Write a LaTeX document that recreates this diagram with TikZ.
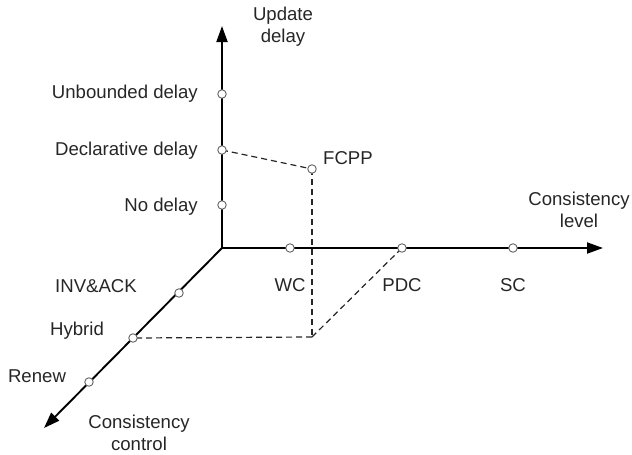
\documentclass[tikz,border=0pt]{standalone}
\usepackage{fontspec}
\setmainfont{Liberation Sans}
\usetikzlibrary{arrows.meta}
\tikzset{
  axis/.style={line width=1.9pt, -{Triangle[length=16pt,width=11pt]}},
  dotnode/.style={circle, draw=black!60, fill=white, line width=0.9pt, inner sep=0pt, minimum size=8.5pt},
  guide/.style={line width=1.2pt, dash pattern=on 6pt off 4pt, black!85},
  lbl/.style={inner sep=0pt, font=\fontsize{18.6}{22}\selectfont, text=black!85},
}
\begin{document}
\begin{tikzpicture}[x=1pt,y=-1pt]
\useasboundingbox (0,0) rectangle (632,455);
% axis ends
\coordinate (O) at (222,248);
\coordinate (Ytip) at (222,26);
\coordinate (Xtip) at (603,248);
\coordinate (Ztip) at (44,428);
\coordinate (P) at (312,337);
\draw[axis] (O) -- (Ytip);
\draw[axis] (O) -- (Xtip);
\draw[axis, line cap=round] (O) -- (Ztip);
% guide lines
\coordinate (dd) at (222,150);
\coordinate (fc) at (312,169);
\coordinate (pd) at (402,248);
\coordinate (hy) at (133,338);
\draw[guide] (dd) -- (fc);
\draw[guide] (fc) -- (P);
\draw[guide] (P) -- (pd);
\draw[guide] (P) -- (hy);
% dots
\node[dotnode] (ub) at (222,94) {};
\node[dotnode] (ddn) at (dd) {};
\node[dotnode] (nd) at (222,205) {};
\node[dotnode] (fcn) at (fc) {};
\node[dotnode] (wc) at (290,248) {};
\node[dotnode] (pdn) at (pd) {};
\node[dotnode] (sc) at (513,248) {};
\node[dotnode] (ia) at (179,293) {};
\node[dotnode] (hyn) at (hy) {};
\node[dotnode] (rn) at (89,382) {};
% labels
\node[lbl, align=center] (ylab) at (283,27) {Update\\delay};
\node[lbl, anchor=east] (l1) at (198,94) {Unbounded delay};
\node[lbl, anchor=east] (l2) at (198,151) {Declarative delay};
\node[lbl, anchor=east] (l3) at (198,207) {No delay};
\node[lbl, anchor=west] (l4) at (323,158) {FCPP};
\node[lbl, align=center] (xlab) at (579,210) {Consistency\\level};
\node[lbl] (l5) at (290,285) {WC};
\node[lbl] (l6) at (402,285) {PDC};
\node[lbl] (l7) at (513,285) {SC};
\node[lbl] (l8) at (96,286) {INV\&ACK};
\node[lbl] (l9) at (77,331) {Hybrid};
\node[lbl] (l10) at (37,376) {Renew};
\node[lbl, align=center] (zlab) at (139,433) {Consistency\\control};
\end{tikzpicture}
\end{document}
